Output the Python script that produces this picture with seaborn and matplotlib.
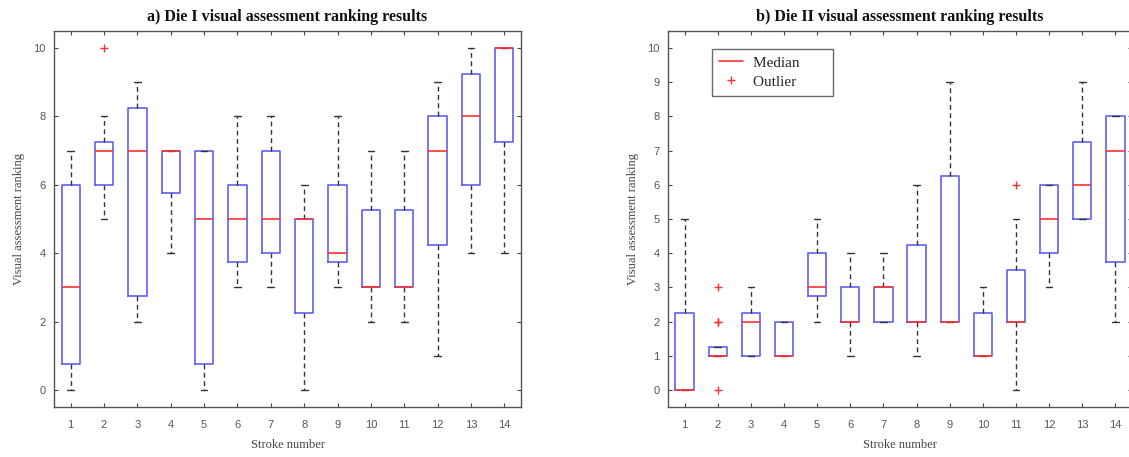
import numpy as np
import pandas as pd
import matplotlib
matplotlib.use("Agg")
import matplotlib.pyplot as plt
from matplotlib.lines import Line2D
import seaborn as sns

# ---- data: visual assessment rankings per stroke (reconstructed samples) ----
strokes = list(range(1, 15))

die1_s01 = [0, 0, 0, 1, 2, 3, 3, 5, 6, 6, 6, 7]
die1_s02 = [5, 6, 6, 6, 6, 7, 7, 7, 7, 8, 8, 10]
die1_s03 = [2, 2, 2, 3, 5, 7, 7, 8, 8, 9, 9, 9]
die1_s04 = [4, 5, 5, 6, 6, 7, 7, 7, 7, 7, 7, 7]
die1_s05 = [0, 0, 0, 1, 3, 5, 5, 6, 7, 7, 7, 7]
die1_s06 = [3, 3, 3, 4, 4, 5, 5, 6, 6, 6, 7, 8]
die1_s07 = [3, 4, 4, 4, 5, 5, 5, 6, 7, 7, 8, 8]
die1_s08 = [0, 1, 2, 3, 5, 5, 5, 5, 5, 6]
die1_s09 = [3, 3, 3, 4, 4, 4, 4, 5, 6, 6, 7, 8]
die1_s10 = [2, 3, 3, 3, 3, 3, 3, 4, 5, 6, 7, 7]
die1_s11 = [2, 2, 3, 3, 3, 3, 3, 5, 5, 6, 6, 7]
die1_s12 = [1, 3, 4, 5, 7, 7, 8, 8, 9, 9]
die1_s13 = [4, 5, 6, 6, 7, 8, 8, 9, 9, 10, 10, 10]
die1_s14 = [4, 6, 7, 8, 10, 10, 10, 10, 10, 10]

die2_s01 = [0, 0, 0, 0, 0, 0, 0, 1, 2, 3, 4, 5]
die2_s02 = [0, 1, 1, 1, 1, 1, 1, 1, 1, 2, 2, 3]
die2_s03 = [1, 1, 1, 1, 2, 2, 2, 2, 2, 3, 3, 3]
die2_s04 = [1, 1, 1, 1, 1, 1, 1, 2, 2, 2, 2, 2]
die2_s05 = [2, 2, 2, 3, 3, 3, 3, 4, 4, 4, 4, 5]
die2_s06 = [1, 2, 2, 2, 2, 2, 2, 3, 3, 3, 3, 4]
die2_s07 = [2, 2, 2, 2, 3, 3, 3, 3, 3, 3, 4, 4]
die2_s08 = [1, 2, 2, 2, 2, 2, 2, 3, 4, 5, 6, 6]
die2_s09 = [2, 2, 2, 2, 2, 2, 2, 4, 6, 7, 8, 9]
die2_s10 = [1, 1, 1, 1, 1, 1, 1, 2, 2, 3, 3, 3]
die2_s11 = [0, 1, 2, 2, 2, 2, 2, 3, 3, 5, 5, 6]
die2_s12 = [3, 4, 4, 4, 5, 5, 5, 5, 6, 6, 6, 6]
die2_s13 = [5, 5, 5, 5, 6, 6, 6, 7, 7, 8, 8, 9]
die2_s14 = [2, 3, 3, 4, 5, 7, 7, 8, 8, 8, 8, 8]

die1 = [die1_s01, die1_s02, die1_s03, die1_s04, die1_s05, die1_s06, die1_s07,
        die1_s08, die1_s09, die1_s10, die1_s11, die1_s12, die1_s13, die1_s14]
die2 = [die2_s01, die2_s02, die2_s03, die2_s04, die2_s05, die2_s06, die2_s07,
        die2_s08, die2_s09, die2_s10, die2_s11, die2_s12, die2_s13, die2_s14]

titles = ["a) Die I visual assessment ranking results",
          "b) Die II visual assessment ranking results"]
xlabel = "Stroke number"
ylabel = "Visual assessment ranking"
legend_labels = ["Median", "Outlier"]


def long_form(samples):
    rows = []
    for s, vals in zip(strokes, samples):
        for v in vals:
            rows.append((s, v))
    return pd.DataFrame(rows, columns=["stroke", "rank"])


sns.set_style("white")
plt.rcParams["font.family"] = ["Liberation Serif", "DejaVu Serif"]

W, H = 1129, 457
fig = plt.figure(figsize=(W / 100, H / 100), dpi=100)
ax1 = fig.add_axes([54 / W, (H - 407) / H, 467 / W, 376 / H])
ax2 = fig.add_axes([668 / W, (H - 407) / H, 464 / W, 376 / H])

box_blue = "#6060f0"
red = "#ff3030"
common = dict(
    x="stroke", y="rank", native_scale=True, fill=False, width=0.55,
    whis=1.5, linewidth=1.2,
    boxprops=dict(color=box_blue, linewidth=1.2),
    medianprops=dict(color=red, linewidth=1.2),
    whiskerprops=dict(color="#333333", linestyle=(0, (3.5, 2.5)), linewidth=1.0),
    capprops=dict(color="#333333", linewidth=1.0),
    flierprops=dict(marker="+", markeredgecolor=red, markerfacecolor="none",
                    markersize=6, markeredgewidth=1.0),
)

for ax, samples, title, yt in [(ax1, die1, titles[0], np.arange(0, 11, 2)),
                               (ax2, die2, titles[1], np.arange(0, 11, 1))]:
    df = long_form(samples)
    try:
        sns.boxplot(data=df, ax=ax, capwidths=0.2, **common)
    except TypeError:
        ax.cla()
        sns.boxplot(data=df, ax=ax, **common)
    ax.set_xlim(0.5, 14.5)
    ax.set_ylim(-0.5, 10.5)
    ax.set_xticks(strokes)
    ax.set_xticklabels([str(s) for s in strokes])
    ax.set_yticks(yt)
    ax.set_yticklabels([str(v) for v in yt])
    ax.tick_params(direction="in", length=3, width=0.8, top=True, right=True,
                   bottom=True, left=True, colors="#444444", labelcolor="#555555",
                   labelsize=8)
    ax.tick_params(axis="x", pad=9)
    ax.tick_params(axis="y", pad=6)
    for lab in ax.get_xticklabels() + ax.get_yticklabels():
        lab.set_family(["Liberation Sans", "DejaVu Sans"])
    for sp in ax.spines.values():
        sp.set_color("#555555")
        sp.set_linewidth(1.0)
        sp.set_visible(True)
    ax.set_title(title, fontsize=11.5, fontweight="bold", pad=7, color="#111111")
    ax.set_xlabel(xlabel, fontsize=9, color="#444444", labelpad=7)
    ax.set_ylabel(ylabel, fontsize=9, color="#444444", labelpad=6)
    ax.grid(False)

handles = [Line2D([], [], color=red, linewidth=1.2, label=legend_labels[0] + "       "),
           Line2D([], [], color=red, marker="+", linestyle="none",
                  markersize=6, label=legend_labels[1] + "       ")]
leg = ax2.legend(handles=handles, loc="upper left", bbox_to_anchor=(0.095, 0.952),
                 borderaxespad=0, frameon=True, fancybox=False, fontsize=11,
                 edgecolor="#444444", handlelength=1.6, handletextpad=0.6,
                 labelspacing=0.35, borderpad=0.45)
leg.get_frame().set_linewidth(1.0)

fig.savefig("out.png", dpi=100)
